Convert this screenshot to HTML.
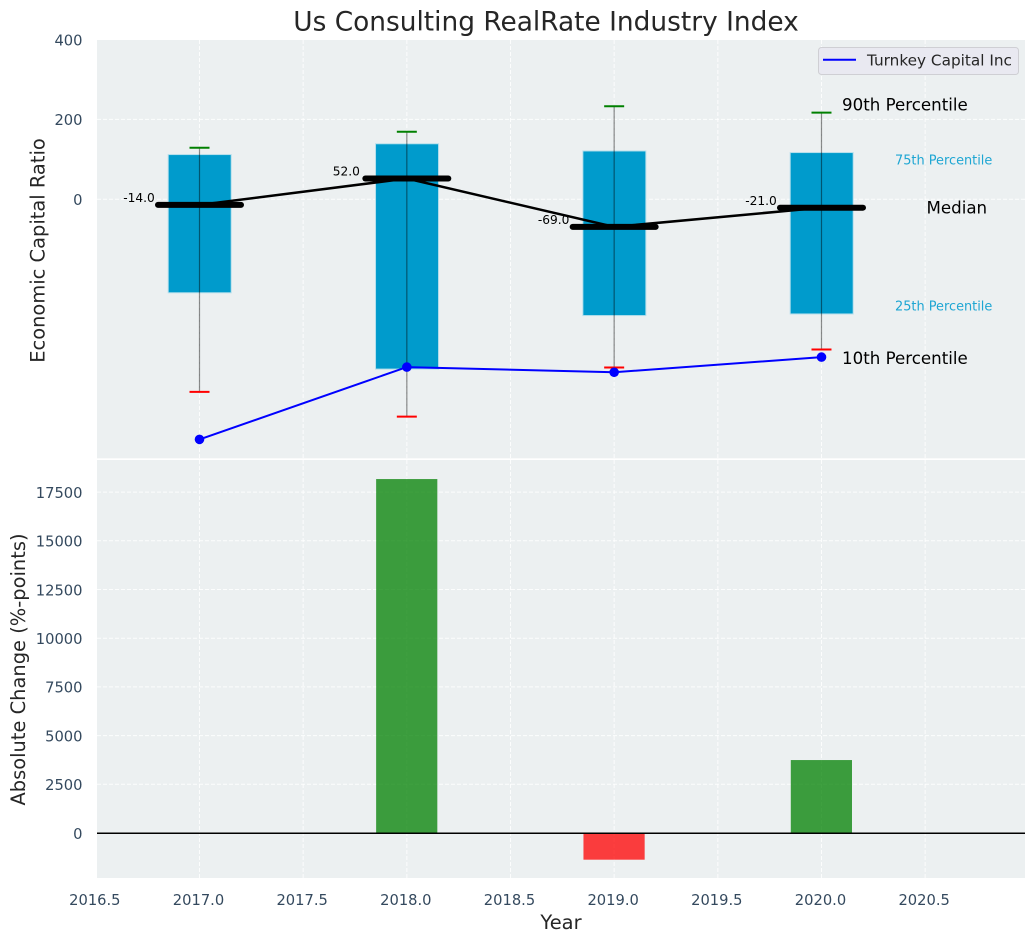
<!DOCTYPE html>
<html lang="en">
<head>
<meta charset="utf-8">
<title>Us Consulting RealRate Industry Index</title>
<style>
html,body{margin:0;padding:0;background:#fff;width:1035px;height:942px;overflow:hidden}
svg{display:block;font-family:"DejaVu Sans","Liberation Sans",sans-serif}
</style>
</head>
<body>
<svg id="chart" xmlns="http://www.w3.org/2000/svg" width="1035" height="942" viewBox="0 0 1035 942">
  <rect x="97" y="40" width="928" height="419" fill="#ecf0f1"/>
  <rect x="97" y="460" width="928" height="418" fill="#ecf0f1"/>
  <g id="grid"></g>
  <g id="top-marks"></g>
  <g id="bottom-marks"></g>
  <g id="ticks"></g>
  <text x="546" y="30.500" font-size="26.400" fill="#262626" text-anchor="middle">Us Consulting RealRate Industry Index</text>
  <text transform="translate(44.500,250.500) rotate(-90)" font-size="19.440" fill="#262626" text-anchor="middle">Economic Capital Ratio</text>
  <text transform="translate(25,669.500) rotate(-90)" font-size="19.440" fill="#262626" text-anchor="middle">Absolute Change (%-points)</text>
  <text x="561" y="929" font-size="19.440" fill="#262626" text-anchor="middle">Year</text>
  <g>
    <rect x="818.500" y="47.500" width="200" height="27" rx="3" fill="#e9e9f1" stroke="#cfcfd4" stroke-width="1"/>
    <line x1="823" y1="59.700" x2="856" y2="59.700" stroke="#0000ff" stroke-width="2"/>
    <text x="867" y="65.500" font-size="15.280" fill="#262626">Turnkey Capital Inc</text>
  </g>
  <text x="842" y="110.500" font-size="16.670" fill="#000">90th Percentile</text>
  <text x="895" y="164.300" font-size="12.900" fill="#1ea6d3">75th Percentile</text>
  <text x="926.500" y="213.500" font-size="16.670" fill="#000">Median</text>
  <text x="895" y="310.300" font-size="12.900" fill="#1ea6d3">25th Percentile</text>
  <text x="842" y="364" font-size="16.670" fill="#000">10th Percentile</text>
  <rect x="97" y="458.300" width="928" height="1.700" fill="#ffffff"/>
</svg>
<script>
const years = [2017, 2018, 2019, 2020];
const p90 = [129, 169, 233, 217];
const p75 = [112, 139, 121, 117];
const median = [-14, 52, -69, -21];
const p25 = [-234, -425, -291, -287];
const p10 = [-482, -544, -421, -376];
const company = [-601, -420, -433, -395];
const absChange = [0, 18170, -1370, 3745];
const xTicks = [2016.5, 2017, 2017.5, 2018, 2018.5, 2019, 2019.5, 2020, 2020.5];
const topYTicks = [0, 200, 400];
const bottomYTicks = [0, 2500, 5000, 7500, 10000, 12500, 15000, 17500];

const NS = 'http://www.w3.org/2000/svg';
const sx = v => 199.5 + (v - 2017) * 207.33;
const syTop = v => 199.3 - v * 0.3995;
const syBot = v => 833 - v * 0.01948;

function make(tag, parent, props) {
  const el = document.createElementNS(NS, tag);
  for (const k in props) el.setAttribute(k, props[k]);
  parent.appendChild(el);
  return el;
}
const grid = document.getElementById('grid');
const topMarks = document.getElementById('top-marks');
const botMarks = document.getElementById('bottom-marks');
const ticks = document.getElementById('ticks');
const dash = {stroke: '#ffffff', 'stroke-opacity': 0.85, 'stroke-width': 1, 'stroke-dasharray': '4 2', fill: 'none'};

xTicks.forEach(t => {
  const x = sx(t);
  if (x >= 97) {
    const a = make('line', grid, {...dash, x1: x, x2: x, y1: 40, y2: 459});
    
    
    const b = make('line', grid, {...dash, x1: x, x2: x, y1: 460, y2: 878});
    
    
  }
  const lab = make('text', ticks, {x: x - 1, y: 904.8, 'font-size': 14.7, fill: '#34495e', 'text-anchor': 'middle'});
  lab.textContent = t.toFixed(1);
  
  
});
topYTicks.forEach(t => {
  const y = syTop(t);
  const g = make('line', grid, {...dash, x1: 97, x2: 1025, y1: y, y2: y});
  
  
  const lab = make('text', ticks, {x: 82.5, y: y + 5.8, 'font-size': 14.7, fill: '#34495e', 'text-anchor': 'end'});
  lab.textContent = String(t);
  
  
});
bottomYTicks.forEach(t => {
  const y = syBot(t);
  const g = make('line', grid, {...dash, x1: 97, x2: 1025, y1: y, y2: y});
  
  
  const lab = make('text', ticks, {x: 82.5, y: y + 5.8, 'font-size': 14.7, fill: '#34495e', 'text-anchor': 'end'});
  lab.textContent = String(t);
  
  
});

years.forEach((yr, i) => {
  const x = sx(yr);
  const box = make('rect', topMarks, {x: x - 31.3, y: syTop(p75[i]), width: 63, height: syTop(p25[i]) - syTop(p75[i]), fill: '#009bcc', stroke: '#b5dfec', 'stroke-width': 1});
  
  
  const w = make('line', topMarks, {x1: x, x2: x, y1: syTop(p90[i]), y2: syTop(p10[i]), stroke: '#000', 'stroke-opacity': 0.45, 'stroke-width': 1.2});
  
  
  const c1 = make('line', topMarks, {x1: x - 10, x2: x + 10, y1: syTop(p90[i]), y2: syTop(p90[i]), stroke: '#008000', 'stroke-width': 2});
  
  
  const c2 = make('line', topMarks, {x1: x - 10, x2: x + 10, y1: syTop(p10[i]), y2: syTop(p10[i]), stroke: '#ff0000', 'stroke-width': 2});
  
  
});

const medLine = make('polyline', topMarks, {points: years.map((yr, i) => sx(yr) + ',' + syTop(median[i])).join(' '), fill: 'none', stroke: '#000', 'stroke-width': 2.5});



years.forEach((yr, i) => {
  const x = sx(yr), y = syTop(median[i]);
  const m = make('line', topMarks, {x1: x - 41.5, x2: x + 41.5, y1: y, y2: y, stroke: '#000', 'stroke-width': 6, 'stroke-linecap': 'round'});
  
  
  const lab = make('text', topMarks, {x: x - 60.5, y: y - 2.8, 'font-size': 12.2, fill: '#000', 'text-anchor': 'middle'});
  lab.textContent = median[i].toFixed(1);
  
  
});

const coLine = make('polyline', topMarks, {points: years.map((yr, i) => sx(yr) + ',' + syTop(company[i])).join(' '), fill: 'none', stroke: '#0000ff', 'stroke-width': 2});


years.forEach((yr, i) => {
  const d = make('circle', topMarks, {cx: sx(yr), cy: syTop(company[i]), r: 4.8, fill: '#0000ff'});
  
  
});

years.forEach((yr, i) => {
  const v = absChange[i];
  if (v === 0) return;
  const y0 = syBot(Math.max(v, 0)), y1 = syBot(Math.min(v, 0));
  const b = make('rect', botMarks, {x: sx(yr) - 30.7, y: y0, width: 61.2, height: y1 - y0, fill: v > 0 ? '#008000' : '#ff0000', 'fill-opacity': 0.75});
  
  
});
const zero = make('line', botMarks, {x1: 97, x2: 1025, y1: syBot(0) + 0.3, y2: syBot(0) + 0.3, stroke: '#000', 'stroke-width': 1.5});


</script>
</body>
</html>
